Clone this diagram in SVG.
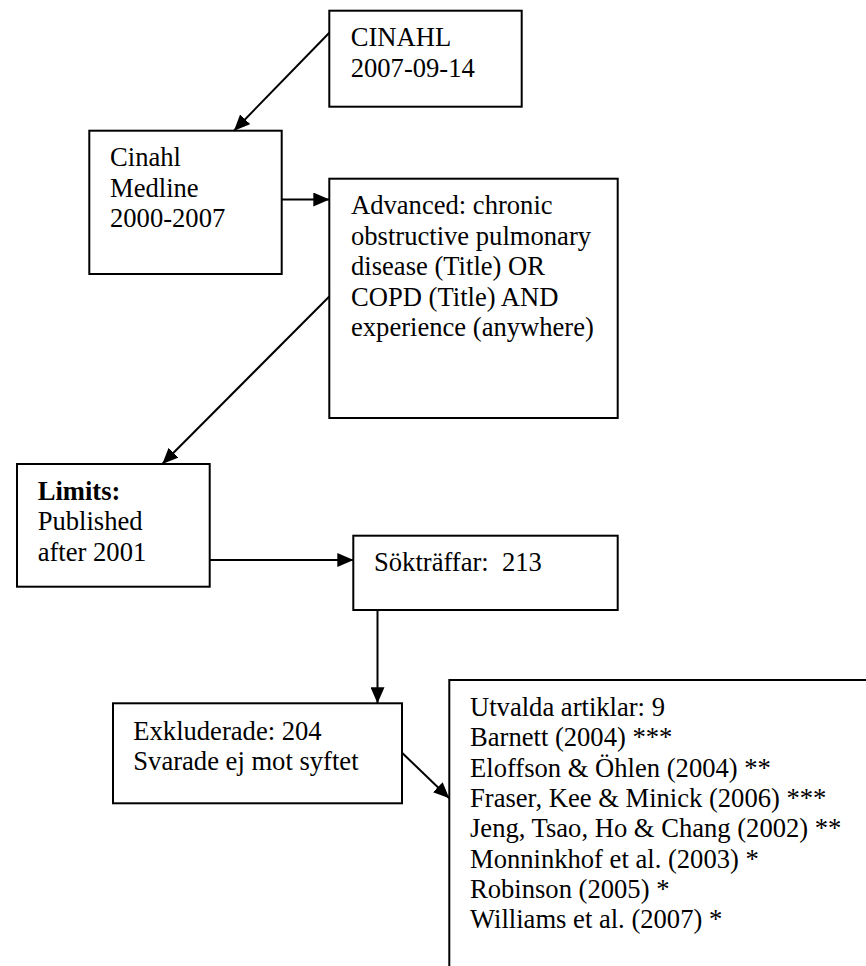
<svg xmlns="http://www.w3.org/2000/svg" width="866" height="966" viewBox="0 0 866 966">
<style>
.box{fill:#fff;stroke:#000;stroke-width:2}
.t{font-family:"Liberation Serif","Times New Roman",serif;font-size:26.6px;fill:#000}
.b{font-weight:bold}
.c{stroke:#000;stroke-width:2;fill:none}
</style>
<defs>
<marker id="ah" markerUnits="userSpaceOnUse" markerWidth="16" markerHeight="14" refX="16" refY="7" orient="auto" viewBox="0 0 16 14">
<path d="M0,0 L16,7 L0,14 z" fill="#000"/>
</marker>
</defs>
<rect width="866" height="966" fill="#fff"/>
<g id="cinahl">
<rect class="box" x="329.3" y="10.7" width="192.4" height="96"/>
<text class="t" x="350.7" y="45.7">CINAHL</text>
<text class="t" x="350.7" y="76.7">2007-09-14</text>
</g>
<g id="databases">
<rect class="box" x="89.3" y="130.7" width="192.4" height="143.3"/>
<text class="t" x="110" y="165.7">Cinahl</text>
<text class="t" x="110" y="196.7">Medline</text>
<text class="t" x="110" y="226.7">2000-2007</text>
</g>
<g id="advanced">
<rect class="box" x="329.3" y="178.7" width="288.4" height="239.3"/>
<text class="t" x="351" y="213.5">Advanced: chronic</text>
<text class="t" x="351" y="244.5">obstructive pulmonary</text>
<text class="t" x="351" y="275">disease (Title) OR</text>
<text class="t" x="351" y="305.5">COPD (Title) AND</text>
<text class="t" x="351" y="336">experience (anywhere)</text>
</g>
<g id="limits">
<rect class="box" x="17" y="464" width="192.7" height="122.7"/>
<text class="t b" x="37.7" y="499.5">Limits:</text>
<text class="t" x="37.7" y="530">Published</text>
<text class="t" x="37.7" y="560.5">after 2001</text>
</g>
<g id="hits">
<rect class="box" x="353.3" y="535.7" width="264.4" height="74.3"/>
<text class="t" x="374" y="571" xml:space="preserve">Sökträffar:  213</text>
</g>
<g id="excluded">
<rect class="box" x="113" y="703.3" width="289" height="100"/>
<text class="t" x="133.3" y="739.5">Exkluderade: 204</text>
<text class="t" x="133.3" y="769.5">Svarade ej mot syftet</text>
</g>
<g id="selected">
<rect class="box" x="449.3" y="680" width="440" height="320"/>
<text class="t" x="470" y="716">Utvalda artiklar: 9</text>
<text class="t" x="470" y="746.3">Barnett (2004) ***</text>
<text class="t" x="470" y="776.6">Eloffson &amp; Öhlen (2004) **</text>
<text class="t" x="470" y="806.9">Fraser, Kee &amp; Minick (2006) ***</text>
<text class="t" x="470" y="837.2">Jeng, Tsao, Ho &amp; Chang (2002) **</text>
<text class="t" x="470" y="867.5">Monninkhof et al. (2003) *</text>
<text class="t" x="470" y="897.8">Robinson (2005) *</text>
<text class="t" x="470" y="928.1">Williams et al. (2007) *</text>
</g>
<g id="connectors">
<line class="c" x1="329.3" y1="32.7" x2="234" y2="130.7" marker-end="url(#ah)"/>
<line class="c" x1="281.7" y1="199.5" x2="329.3" y2="199.5" marker-end="url(#ah)"/>
<line class="c" x1="329.3" y1="296.5" x2="162.3" y2="464" marker-end="url(#ah)"/>
<line class="c" x1="209.7" y1="560" x2="353.3" y2="560" marker-end="url(#ah)"/>
<line class="c" x1="377.5" y1="610" x2="377.5" y2="703.3" marker-end="url(#ah)"/>
<line class="c" x1="402" y1="752.7" x2="449.3" y2="798.3" marker-end="url(#ah)"/>
</g>
</svg>
